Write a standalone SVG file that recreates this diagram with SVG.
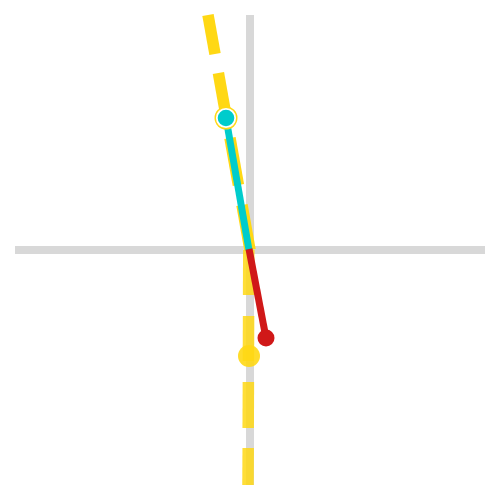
<svg xmlns="http://www.w3.org/2000/svg" width="500" height="500" viewBox="0 0 500 500">
<style>
.axis{stroke:#d8d8d8;stroke-width:8;fill:none}
.dash{stroke:#ffd814;stroke-width:11.5;stroke-linecap:butt;fill:none}
.low{opacity:0.85}
.vec{stroke-width:7;stroke-linecap:butt;fill:none}
</style>
<rect width="500" height="500" fill="#ffffff"/>
<g id="axes">
<line class="axis" x1="250" y1="15" x2="250" y2="485"/>
<line class="axis" x1="15" y1="250" x2="485" y2="250"/>
</g>
<g id="connectors">
<line class="dash" x1="208" y1="15" x2="215" y2="54"/>
<line class="dash" x1="218.4" y1="73" x2="226.4" y2="118"/>
<line class="dash" x1="230" y1="138" x2="238.4" y2="185"/>
<line class="dash" x1="242" y1="205" x2="250" y2="250"/>
<line class="dash low" x1="248.8" y1="250" x2="248.6" y2="295"/>
<line class="dash low" x1="248.6" y1="316" x2="248.4" y2="361"/>
<line class="dash low" x1="248.4" y1="382" x2="248.2" y2="428"/>
<line class="dash low" x1="248.2" y1="448" x2="248" y2="485"/>
<line class="vec" stroke="#00cccc" x1="226" y1="118" x2="249" y2="250"/>
<line class="vec" stroke="#d01818" x1="249" y1="249" x2="266" y2="338"/>
</g>
<g id="point-yellow">
<circle cx="249" cy="356" r="11" fill="#ffd814" opacity="0.9"/>
</g>
<g id="point-red">
<circle cx="266" cy="338" r="8.5" fill="#d01818"/>
</g>
<g id="point-cyan">
<circle cx="226" cy="118" r="11.5" fill="#ffd814"/>
<circle cx="226" cy="118" r="9.2" fill="#00cccc" stroke="#ffffff" stroke-width="1.8"/>
</g>
</svg>
